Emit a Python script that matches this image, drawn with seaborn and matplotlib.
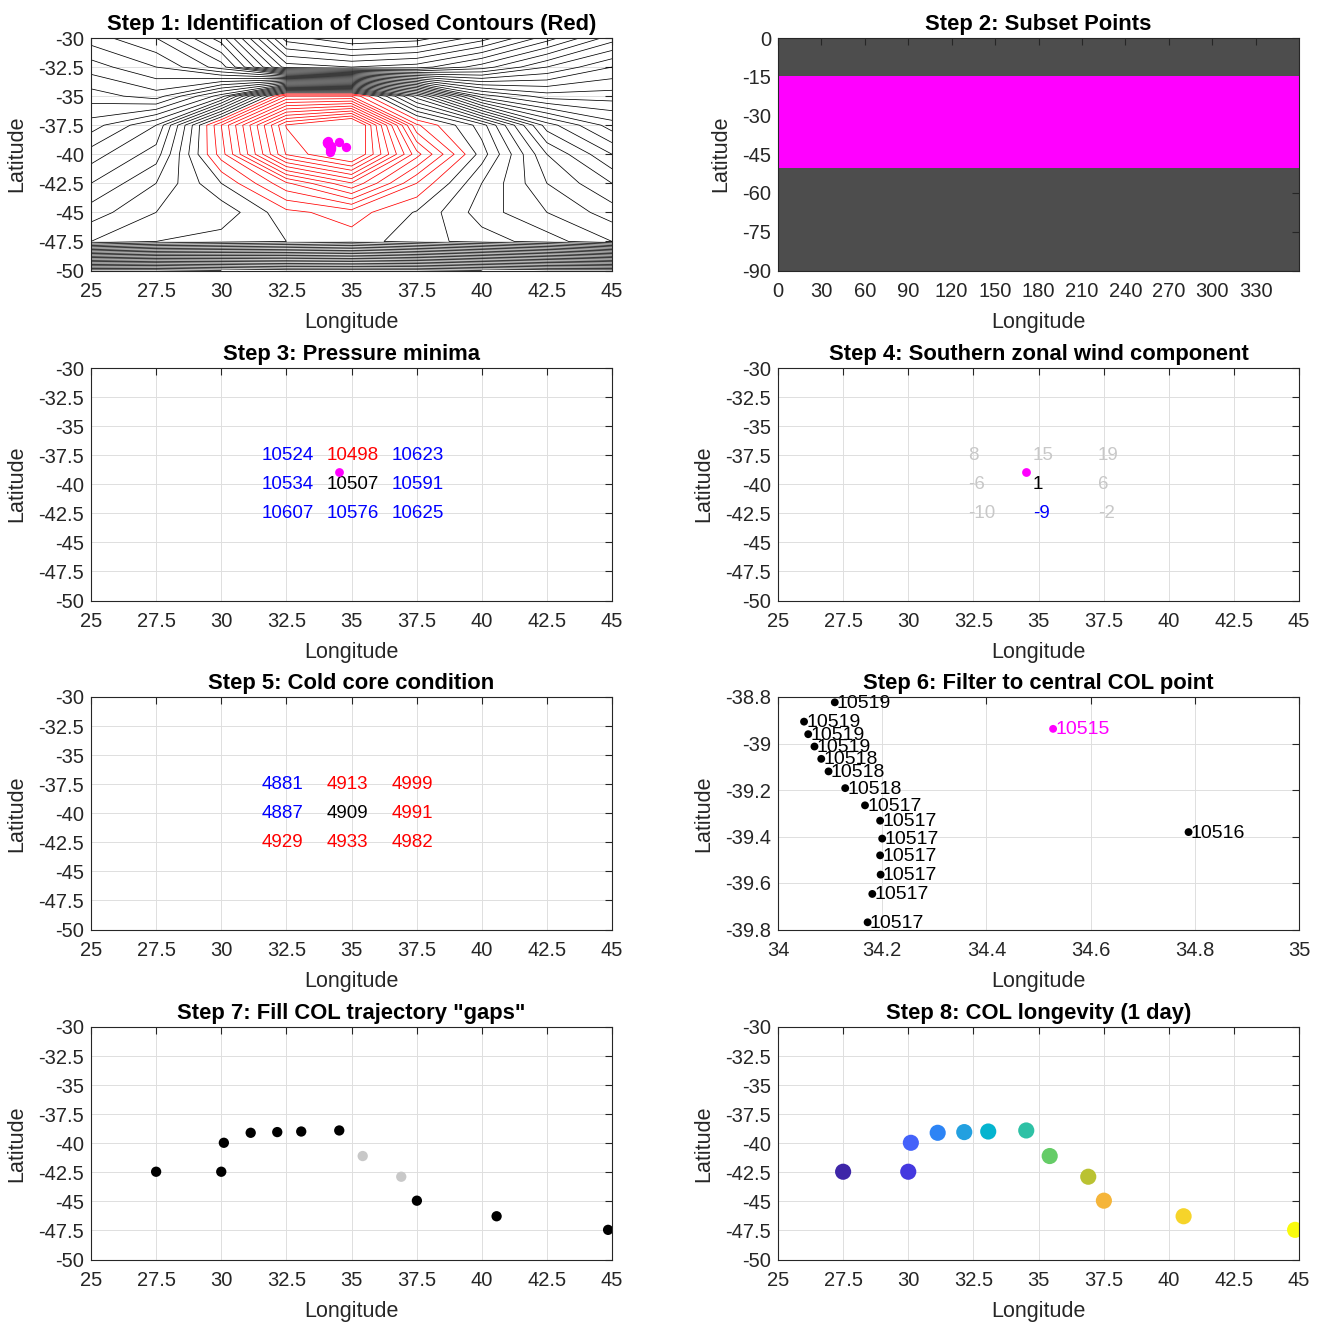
import numpy as np
import pandas as pd
import matplotlib
matplotlib.use("Agg")
import matplotlib.pyplot as plt
import seaborn as sns
from matplotlib.colors import LinearSegmentedColormap

sns.set_theme(style="white")
plt.rcParams['font.family'] = ['Liberation Sans', 'DejaVu Sans']
plt.rcParams['axes.unicode_minus'] = False

# ---------------- data ----------------
# Step 1: geopotential height field on 2.5 deg grid (rows north -> south)
grid_lon = [25.0, 27.5, 30.0, 32.5, 35.0, 37.5, 40.0, 42.5, 45.0]
grid_lat = [-30.0, -32.5, -35.0, -37.5, -40.0, -42.5, -45.0, -47.5, -50.0]
z_m300 = [10790, 10805, 10840, 10920, 10935, 10930, 10910, 10880, 10850]
z_m325 = [10770, 10785, 10810, 10880, 10885, 10880, 10860, 10835, 10815]
z_m350 = [10750, 10760, 10720, 10615, 10615, 10690, 10770, 10790, 10790]
z_m375 = [10730, 10705, 10615, 10524, 10498, 10623, 10660, 10730, 10760]
z_m400 = [10710, 10690, 10620, 10534, 10507, 10591, 10650, 10705, 10735]
z_m425 = [10695, 10675, 10645, 10607, 10576, 10625, 10665, 10695, 10715]
z_m450 = [10680, 10665, 10662, 10638, 10630, 10646, 10670, 10685, 10700]
z_m475 = [10665, 10655, 10650, 10645, 10640, 10650, 10660, 10670, 10685]
z_m500 = [10450, 10450, 10455, 10460, 10460, 10460, 10465, 10470, 10470]
contour_start, contour_step = 10455, 10
closed_min, closed_max = 10525, 10635   # closed (red) contour levels

# Step 2: latitude band of subset points
band_lat = [-15.0, -50.0]
grid_res = 0.5

# Step 3: pressure (geopotential) minima 3x3 neighbourhood
nb_lon = [32.5, 35.0, 37.5]
nb_lat = [-37.5, -40.0, -42.5]
s3_row1 = [10524, 10498, 10623]
s3_row2 = [10534, 10507, 10591]
s3_row3 = [10607, 10576, 10625]

# Step 4: zonal wind component
s4_row1 = [8, 15, 19]
s4_row2 = [-6, 1, 6]
s4_row3 = [-10, -9, -2]

# Step 5: cold core (thickness)
s5_row1 = [4881, 4913, 4999]
s5_row2 = [4887, 4909, 4991]
s5_row3 = [4929, 4933, 4982]

# Step 6: candidate points and their values
s6_lon = [34.109, 34.050, 34.058, 34.070, 34.083, 34.097, 34.129, 34.167, 34.196,
          34.200, 34.196, 34.197, 34.181, 34.172, 34.528, 34.788]
s6_lat = [-38.823, -38.906, -38.960, -39.013, -39.066, -39.120, -39.192, -39.266, -39.332,
          -39.409, -39.481, -39.564, -39.647, -39.769, -38.937, -39.381]
s6_val = [10519, 10519, 10519, 10519, 10518, 10518, 10518, 10517, 10517,
          10517, 10517, 10517, 10517, 10517, 10515, 10516]
central_lon = 34.528
central_lat = -38.937

# Step 7/8: trajectory
traj_lon = [27.5, 30.0, 30.1, 31.13, 32.15, 33.07, 34.53, 35.43, 36.91, 37.51, 40.57, 44.85]
traj_lat = [-42.45, -42.45, -39.96, -39.1, -39.04, -38.99, -38.9, -41.1, -42.88, -44.94, -46.28, -47.45]
traj_status = ['detected'] * 7 + ['filled', 'filled'] + ['detected'] * 3

# ---------------- styling helpers ----------------
TXT = '#262626'
FIG_W, FIG_H = 1321, 1322
fig = plt.figure(figsize=(FIG_W / 100, FIG_H / 100), dpi=100)
COL_X = [91, 778]
ROW_Y = [38, 368, 697, 1027]
AX_W, AX_H = 521, 232.5
ANN = 13.5


def add_ax(col, row):
    return fig.add_axes([COL_X[col] / FIG_W, 1 - (ROW_Y[row] + AX_H) / FIG_H,
                         AX_W / FIG_W, AX_H / FIG_H])


def fmt(v):
    return f"{v:g}"


def style(ax, title, xlim, ylim, xticks, yticks, grid=True):
    ax.set_xlim(xlim)
    ax.set_ylim(ylim)
    ax.set_xticks(xticks)
    ax.set_yticks(yticks)
    ax.set_xticklabels([fmt(t) for t in xticks])
    ax.set_yticklabels([fmt(t) for t in yticks])
    ax.tick_params(direction='in', top=True, right=True, length=5, width=0.8,
                   color=TXT, labelcolor=TXT, labelsize=14.5)
    ax.tick_params(axis='x', pad=8)
    ax.tick_params(axis='y', pad=5)
    for s in ax.spines.values():
        s.set_color(TXT)
        s.set_linewidth(0.8)
        s.set_zorder(5)
    if grid:
        ax.grid(True, color='#dedede', linewidth=0.7)
        ax.set_axisbelow(True)
    else:
        ax.grid(False)
    ax.set_xlabel('Longitude', fontsize=15.5, color=TXT, labelpad=8)
    ax.set_ylabel('Latitude', fontsize=15.5, color=TXT, labelpad=8)
    ax.set_title(title, fontsize=15.8, fontweight='bold', color='black', pad=6)


lon_ticks = [25, 27.5, 30, 32.5, 35, 37.5, 40, 42.5, 45]
lat_ticks = [-50, -47.5, -45, -42.5, -40, -37.5, -35, -32.5, -30]

# ---------------- Step 1 ----------------
ax = add_ax(0, 0)
Z = np.array([z_m300, z_m325, z_m350, z_m375, z_m400, z_m425, z_m450, z_m475, z_m500], dtype=float)
lat_arr = np.array(grid_lat)
order = np.argsort(lat_arr)
lat_asc = lat_arr[order]
Z_asc = Z[order, :]
levels = np.arange(contour_start, Z.max(), contour_step)
low_levels = levels[levels <= closed_max]
high_levels = levels[levels > closed_max]
red_levels = low_levels[low_levels >= closed_min]
LW = 0.55
ax.contour(grid_lon, lat_asc, Z_asc, levels=high_levels, colors='black', linewidths=LW)
ax.contour(grid_lon, lat_asc[:2], Z_asc[:2, :], levels=low_levels, colors='black', linewidths=LW)
ax.contour(grid_lon, lat_asc[1:], Z_asc[1:, :], levels=red_levels, colors='red', linewidths=LW)
sns.scatterplot(x=s6_lon, y=s6_lat, color='magenta', s=45, linewidth=0, ax=ax, zorder=4)
style(ax, 'Step 1: Identification of Closed Contours (Red)', (25, 45), (-50, -30), lon_ticks, lat_ticks)

# ---------------- Step 2 ----------------
ax = add_ax(1, 0)
ax.set_facecolor('#4d4d4d')
ax.axhspan(band_lat[1], band_lat[0], color='white', zorder=1, linewidth=0)
g_lon = np.arange(0, 360, grid_res)
g_lat = np.arange(band_lat[1], band_lat[0] + 0.01, grid_res)
LON, LAT = np.meshgrid(g_lon, g_lat)
sns.scatterplot(x=LON.ravel(), y=LAT.ravel(), color='magenta', s=3.5, marker='s',
                linewidth=0, ax=ax, zorder=2)
style(ax, 'Step 2: Subset Points', (0, 360), (-90, 0), list(range(0, 331, 30)),
      [-90, -75, -60, -45, -30, -15, 0], grid=False)

# ---------------- Step 3 ----------------
ax = add_ax(0, 1)
s3 = [s3_row1, s3_row2, s3_row3]
center = s3[1][1]
for r, row in enumerate(s3):
    for c, v in enumerate(row):
        if r == 1 and c == 1:
            colr = 'black'
        elif v < center:
            colr = 'red'
        else:
            colr = 'blue'
        ax.text(nb_lon[c] - 0.95, nb_lat[r], str(v), color=colr, fontsize=ANN,
                ha='left', va='center')
sns.scatterplot(x=[central_lon], y=[central_lat], color='magenta', s=40, linewidth=0, ax=ax, zorder=4)
style(ax, 'Step 3: Pressure minima', (25, 45), (-50, -30), lon_ticks, lat_ticks)

# ---------------- Step 4 ----------------
ax = add_ax(1, 1)
s4 = [s4_row1, s4_row2, s4_row3]
for r, row in enumerate(s4):
    for c, v in enumerate(row):
        if r == 1 and c == 1:
            colr = 'black'
        elif r == 2 and c == 1 and v < 0:
            colr = 'blue'
        else:
            colr = '#c8c8c8'
        ax.text(nb_lon[c] - 0.22, nb_lat[r], str(v), color=colr, fontsize=ANN,
                ha='left', va='center')
sns.scatterplot(x=[central_lon], y=[central_lat], color='magenta', s=40, linewidth=0, ax=ax, zorder=4)
style(ax, 'Step 4: Southern zonal wind component', (25, 45), (-50, -30), lon_ticks, lat_ticks)

# ---------------- Step 5 ----------------
ax = add_ax(0, 2)
s5 = [s5_row1, s5_row2, s5_row3]
center = s5[1][1]
for r, row in enumerate(s5):
    for c, v in enumerate(row):
        if r == 1 and c == 1:
            colr = 'black'
        elif v > center:
            colr = 'red'
        else:
            colr = 'blue'
        ax.text(nb_lon[c] - 0.95, nb_lat[r], str(v), color=colr, fontsize=ANN,
                ha='left', va='center')
style(ax, 'Step 5: Cold core condition', (25, 45), (-50, -30), lon_ticks, lat_ticks)

# ---------------- Step 6 ----------------
ax = add_ax(1, 2)
df6 = pd.DataFrame({'lon': s6_lon, 'lat': s6_lat, 'val': s6_val})
df6['is_central'] = (np.isclose(df6['lon'], central_lon) & np.isclose(df6['lat'], central_lat))
sns.scatterplot(data=df6, x='lon', y='lat', hue='is_central',
                palette={False: 'black', True: 'magenta'}, s=32, linewidth=0,
                legend=False, ax=ax, zorder=4)
for _, rw in df6.iterrows():
    ax.text(rw['lon'] + 0.004, rw['lat'] - 0.004, str(int(rw['val'])),
            color='magenta' if rw['is_central'] else 'black', fontsize=14,
            ha='left', va='center', zorder=5)
style(ax, 'Step 6: Filter to central COL point', (34, 35), (-39.8, -38.8),
      [34, 34.2, 34.4, 34.6, 34.8, 35], [-39.8, -39.6, -39.4, -39.2, -39, -38.8])

# ---------------- Step 7 ----------------
ax = add_ax(0, 3)
df7 = pd.DataFrame({'lon': traj_lon, 'lat': traj_lat, 'status': traj_status,
                    'step': np.arange(1, len(traj_lon) + 1)})
sns.scatterplot(data=df7, x='lon', y='lat', hue='status',
                palette={'detected': 'black', 'filled': '#c8c8c8'}, s=55, linewidth=0,
                legend=False, ax=ax, zorder=4)
style(ax, 'Step 7: Fill COL trajectory "gaps"', (25, 45), (-50, -30), lon_ticks, lat_ticks)

# ---------------- Step 8 ----------------
ax = add_ax(1, 3)
parula_like = LinearSegmentedColormap.from_list(
    'parula_like', ["#3e26a8", "#4538df", "#4463fa", "#2c85f5", "#23a0e0", "#04b4cf",
                    "#2ec1a5", "#66cc66", "#b9c232", "#f5b53a", "#f6d42a", "#f9fb0e"])
sns.scatterplot(data=df7, x='lon', y='lat', hue='step', palette=parula_like,
                hue_norm=(1, len(traj_lon)), s=135, linewidth=0, legend=False, ax=ax, zorder=4)
style(ax, 'Step 8: COL longevity (1 day)', (25, 45), (-50, -30), lon_ticks, lat_ticks)

fig.savefig('out.png', dpi=100)
